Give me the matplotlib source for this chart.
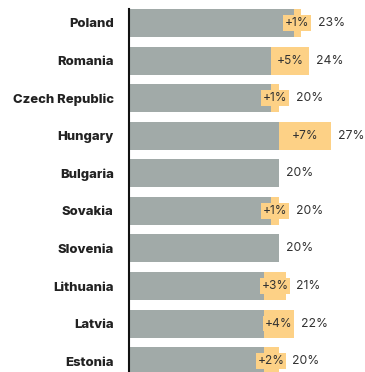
import matplotlib
matplotlib.use("Agg")
import matplotlib.pyplot as plt

countries = ["Poland", "Romania", "Czech Republic", "Hungary", "Bulgaria",
             "Sovakia", "Slovenia", "Lithuania", "Latvia", "Estonia"]
base = [22, 19, 19, 20, 20, 19, 20, 18, 18, 18]
change = [1, 5, 1, 7, 0, 1, 0, 3, 4, 2]
totals = [23, 24, 20, 27, 20, 20, 20, 21, 22, 20]

GREY = "#a1aaa8"
ORANGE = "#fdd186"
TEXT = "#333333"

plt.rcParams["font.family"] = ["Inter", "DejaVu Sans"]

fig = plt.figure(figsize=(3.65, 3.72), dpi=100)
ax = fig.add_axes([129 / 365, 0, 232 / 365, 363 / 372])

y = list(range(len(countries)))
ax.barh(y, base, height=0.745, color=GREY, zorder=2)
ax.barh(y, change, left=base, height=0.745, color=ORANGE, zorder=2)

box_half = 1.8  # half width of the change tag, in percent units
for i in y:
    right = totals[i]
    if change[i]:
        mid = base[i] + change[i] / 2
        ax.text(mid, i, f"+{change[i]}%", ha="center", va="center",
                fontsize=8.6, color=TEXT, zorder=4,
                bbox=dict(boxstyle="square,pad=0.15", fc=ORANGE, ec="none"))
        right = max(right, mid + box_half)
    ax.text(right + 0.95, i, f"{totals[i]}%", ha="left", va="center",
            fontsize=8.8, color=TEXT)

ax.set_xlim(0, 31)
ax.set_ylim(9.287, -0.3725)
ax.set_yticks(y)
ax.set_yticklabels(countries, fontsize=9.4, fontweight="heavy", color="#222222")
ax.tick_params(axis="y", length=0, pad=11)
ax.set_xticks([])

for side in ["top", "right", "bottom"]:
    ax.spines[side].set_visible(False)
ax.spines["left"].set_linewidth(1.5)
ax.spines["left"].set_color("#111111")
ax.spines["left"].set_zorder(5)

fig.savefig("out.png", dpi=100)
